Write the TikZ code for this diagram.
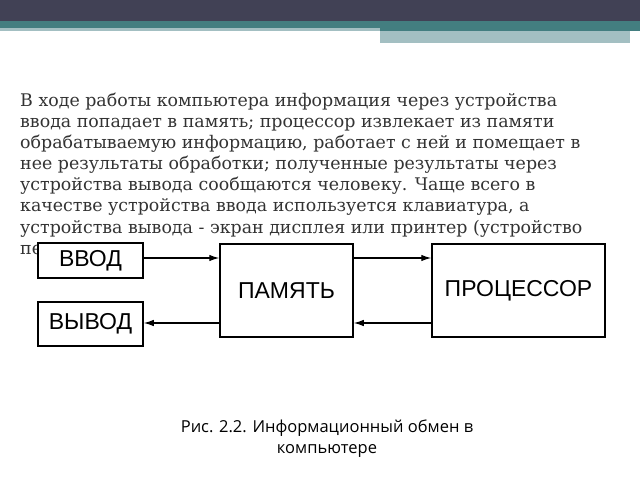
\documentclass[tikz,border=0pt]{standalone}
\usepackage{fontspec}
\setmainfont{DejaVu Serif}
\newfontfamily\boxfont{Liberation Sans}
\newfontfamily\capfont{Open Sans}
\usetikzlibrary{arrows.meta}
\definecolor{barDark}{HTML}{414155}
\definecolor{barTeal}{HTML}{437E80}
\definecolor{barLight}{HTML}{A3BFC2}
\begin{document}
\begin{tikzpicture}[x=1pt,y=-1pt,
  blk/.style={draw,line width=1.5pt,fill=white,inner sep=0pt,font=\boxfont\fontsize{23}{23}\selectfont},
  conn/.style={line width=1.2pt,-{Latex[length=10pt,width=6.5pt]}},
  para/.style={anchor=base west,inner sep=0pt,font=\fontsize{17.4}{20}\selectfont,text=black!80}]
\useasboundingbox (0,0) rectangle (640,480);
\fill[barDark] (0,0) rectangle (640,21);
\fill[barTeal] (0,21) rectangle (640,31);
\fill[barLight] (0,28) rectangle (380,31);
\fill[barLight] (380,31) rectangle (630,43);
\node[para] (l1) at (20,106) {В ходе работы компьютера информация через устройства};
\node[para] (l2) at (20,127) {ввода попадает в память; процессор извлекает из памяти};
\node[para] (l3) at (20,148) {обрабатываемую информацию, работает с ней и помещает в};
\node[para] (l4) at (20,169) {нее результаты обработки; полученные результаты через};
\node[para] (l5) at (20,190) {устройства вывода сообщаются человеку. Чаще всего в};
\node[para] (l6) at (20,211) {качестве устройства ввода используется клавиатура, а};
\node[para] (l7) at (20,233) {устройства вывода - экран дисплея или принтер (устройство};
\node[para] (l8) at (20,254) {пе};
\fill[white] (38,242) rectangle (612,352);
\node[blk,minimum width=105pt,minimum height=35pt] (vvod) at (90.5,260.5) {ВВОД};
\node[blk,minimum width=105pt,minimum height=44pt] (vyvod) at (90.5,324) {ВЫВОД};
\node[blk,minimum width=133pt,minimum height=93pt] (mem) at (286.5,290.5) {\raisebox{-3pt}{ПАМЯТЬ}};
\node[blk,minimum width=173pt,minimum height=93pt] (cpu) at (518.5,290.5) {\raisebox{-3pt}{ПРОЦЕССОР}};
\draw[conn] (vvod.east |- 0,258) -- (mem.west |- 0,258);
\draw[conn] (mem.east |- 0,258) -- (cpu.west |- 0,258);
\draw[conn] (cpu.west |- 0,323) -- (mem.east |- 0,323);
\draw[conn] (mem.west |- 0,323) -- (vyvod.east |- 0,323);
\node[align=center,font=\capfont\fontsize{16.5}{21}\selectfont] (cap) at (327,439) {Рис. 2.2. Информационный обмен в\\компьютере};
\end{tikzpicture}
\end{document}
